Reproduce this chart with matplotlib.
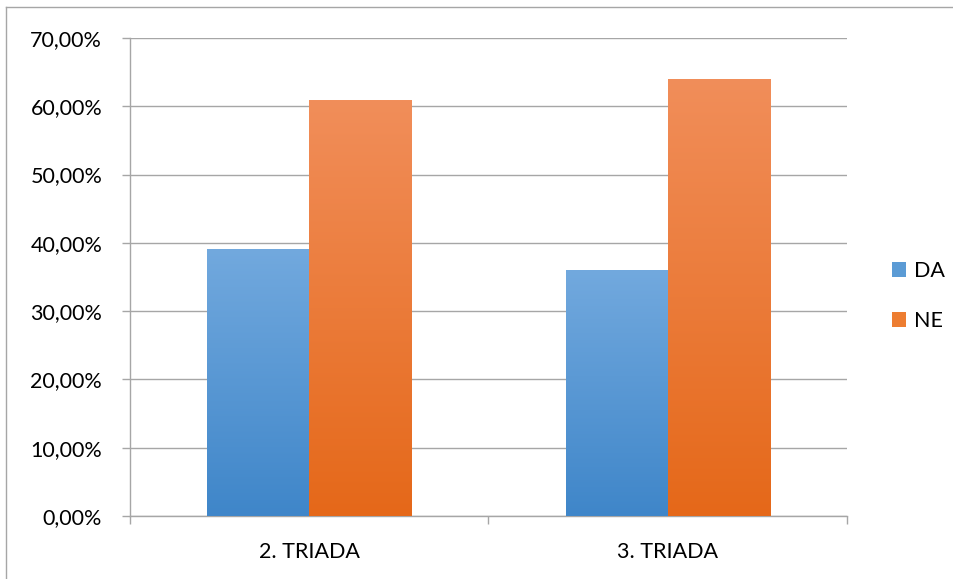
import matplotlib
matplotlib.use("Agg")
import matplotlib.pyplot as plt
import numpy as np
from matplotlib.colors import LinearSegmentedColormap
from matplotlib.lines import Line2D
from matplotlib.patches import Rectangle

categories = ["2. TRIADA", "3. TRIADA"]
series_names = ["DA", "NE"]
da_values = [39.13, 36.0]
ne_values = [60.87, 64.0]
y_ticks = [0, 10, 20, 30, 40, 50, 60, 70]
y_tick_labels = ["0,00%", "10,00%", "20,00%", "30,00%", "40,00%", "50,00%", "60,00%", "70,00%"]

plt.rcParams['font.family'] = ['Lato', 'DejaVu Sans']

fig = plt.figure(figsize=(9.54, 5.79), dpi=100)
W, H = 954, 579
ax = fig.add_axes([130 / W, 1 - 516 / H, (847 - 130) / W, (516 - 38) / H])

grad_colors = {
    "DA": ("#3F86C9", "#72A9DE"),
    "NE": ("#E56819", "#F18E5A"),
}
legend_colors = {"DA": "#5B9BD5", "NE": "#ED7D31"}

FS = 15.5
x = np.arange(len(categories))
bw = 0.285
offsets = [-bw / 2, bw / 2]
for name, vals, off in zip(series_names, [da_values, ne_values], offsets):
    bars = ax.bar(x + off, vals, width=bw, color="none", edgecolor="none", zorder=3)
    cmap = LinearSegmentedColormap.from_list(name, grad_colors[name])
    for b in bars:
        x0, y0 = b.get_x(), b.get_y()
        w, h = b.get_width(), b.get_height()
        grad = np.linspace(0, 1, 256).reshape(-1, 1)
        im = ax.imshow(grad, cmap=cmap, origin="lower", aspect="auto",
                       extent=[x0, x0 + w, y0, y0 + h], zorder=3)
        im.set_clip_path(b)

ax.set_xlim(-0.5, len(categories) - 0.5)
ax.set_ylim(0, 70)
ax.set_yticks(y_ticks)
ax.set_yticklabels(y_tick_labels, fontsize=FS)
ax.set_xticks(x)
ax.set_xticklabels(categories, fontsize=FS)
ax.tick_params(axis="x", length=0, pad=19)
ax.set_xticks([-0.5, 0.5, 1.5], minor=True)
ax.tick_params(axis="x", which="minor", length=6, color="#A6A6A6", width=1)
ax.tick_params(axis="y", length=6, color="#A6A6A6", width=1, pad=14)
ax.grid(axis="y", color="#A6A6A6", linewidth=1, zorder=0)
ax.set_axisbelow(True)
for s in ["top", "right"]:
    ax.spines[s].set_visible(False)
for s in ["left", "bottom"]:
    ax.spines[s].set_color("#A6A6A6")
    ax.spines[s].set_linewidth(1)

handles = [Rectangle((0, 0), 1, 1, facecolor=legend_colors[n], edgecolor="none") for n in series_names]
leg = fig.legend(handles, series_names, loc="center left", bbox_to_anchor=(873 / W, 1 - 296 / H),
                 frameon=False, fontsize=FS, handlelength=0.65, handleheight=0.65,
                 labelspacing=1.4, handletextpad=0.35)

# outer chart frame (left and top visible)
fig.add_artist(Line2D([6.5 / W, 6.5 / W], [0, 1 - 7 / H], transform=fig.transFigure, color="#A6A6A6", lw=1))
fig.add_artist(Line2D([6.5 / W, 1], [1 - 7 / H, 1 - 7 / H], transform=fig.transFigure, color="#A6A6A6", lw=1))

fig.savefig("out.png", dpi=100)
